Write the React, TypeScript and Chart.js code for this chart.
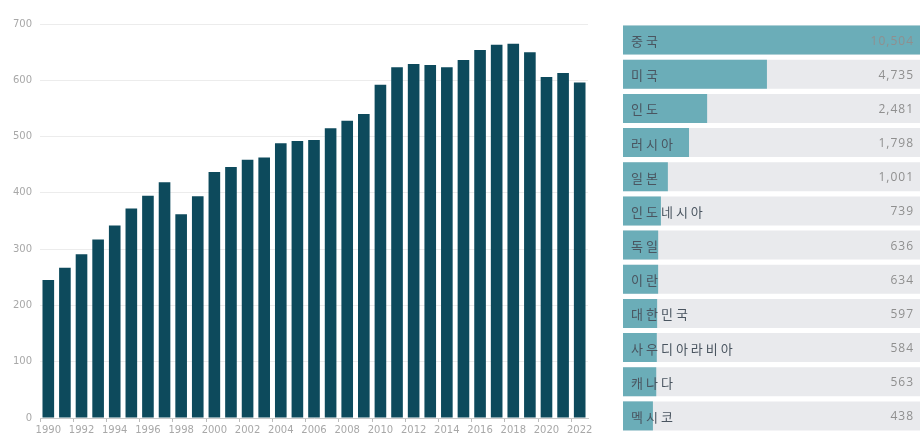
import React, { useEffect, useRef } from "react";
import { Chart, registerables } from "chart.js";

Chart.register(...registerables);

const years: string[] = [
  "1990","1991","1992","1993","1994","1995","1996","1997","1998","1999",
  "2000","2001","2002","2003","2004","2005","2006","2007","2008","2009",
  "2010","2011","2012","2013","2014","2015","2016","2017","2018","2019",
  "2020","2021","2022",
];
const emissions: number[] = [
  245, 267, 291, 317, 342, 372, 395, 419, 362, 394,
  437, 446, 459, 463, 488, 492, 494, 515, 528, 540,
  592, 623, 629, 627, 623, 636, 654, 663, 665, 650,
  606, 613, 596,
];
const yTicks: number[] = [0, 100, 200, 300, 400, 500, 600, 700];

const countries: string[] = [
  "중국", "미국", "인도", "러시아", "일본", "인도네시아",
  "독일", "이란", "대한민국", "사우디아라비아", "캐나다", "멕시코",
];
const countryValues: number[] = [
  10504, 4735, 2481, 1798, 1001, 739, 636, 634, 597, 584, 563, 438,
];
const valueLabels: string[] = [
  "10,504", "4,735", "2,481", "1,798", "1,001", "739",
  "636", "634", "597", "584", "563", "438",
];
const rankMin = -690;
const rankMax = 10504;

const DARK = "#0d4a5c";
const TEAL = "#6badb8";
const TRACK = "#e9eaed";

export default function App() {
  const leftRef = useRef<HTMLCanvasElement | null>(null);
  const rightRef = useRef<HTMLCanvasElement | null>(null);

  useEffect(() => {
    const left = new Chart(leftRef.current as HTMLCanvasElement, {
      type: "bar",
      data: {
        labels: years,
        datasets: [
          {
            data: emissions,
            backgroundColor: DARK,
            borderWidth: 0,
            categoryPercentage: 1,
            barPercentage: 0.7,
          },
        ],
      },
      options: {
        animation: false,
        responsive: false,
        maintainAspectRatio: false,
        layout: { padding: { top: 24, right: 12, left: 0, bottom: 0 } },
        plugins: { legend: { display: false }, tooltip: { enabled: false } },
        scales: {
          y: {
            min: 0,
            max: 700,
            afterTickToLabelConversion: (s: any) => {
              s.ticks = yTicks.map((v) => ({ value: v, label: String(v) }));
            },
            afterFit: (s: any) => {
              s.width = 40;
            },
            ticks: {
              stepSize: 100,
              color: "#a8a8a8",
              padding: 8,
              font: { family: "DejaVu Sans", size: 10 },
            },
            grid: { color: "#ececec", drawTicks: false, lineWidth: 1 },
            border: { display: false },
          },
          x: {
            afterFit: (s: any) => {
              s.height = 20;
            },
            ticks: {
              autoSkip: false,
              maxRotation: 0,
              minRotation: 0,
              padding: 2,
              color: "#a8a8a8",
              font: { family: "DejaVu Sans", size: 10 },
              callback: (_v: any, i: number) => (i % 2 === 0 ? years[i] : ""),
            },
            grid: {
              drawOnChartArea: false,
              drawTicks: true,
              tickLength: 4,
              color: (ctx: any) => (ctx.index % 2 === 0 ? "#bbbbbb" : "rgba(0,0,0,0)"),
            },
            border: { display: true, color: "#c8c8c8" },
          },
        },
      },
    });

    const labelPlugin = {
      id: "rowLabels",
      afterDatasetsDraw(chart: any) {
        const ctx = chart.ctx;
        const meta = chart.getDatasetMeta(1);
        const area = chart.chartArea;
        ctx.save();
        ctx.textBaseline = "middle";
        meta.data.forEach((bar: any, i: number) => {
          const y = bar.y;
          ctx.font = '13px "Noto Sans CJK KR"';
          (ctx as any).letterSpacing = "3px";
          ctx.fillStyle = "#4a5560";
          ctx.textAlign = "left";
          ctx.fillText(countries[i], area.left + 8, y + 1);
          ctx.font = '12px "Open Sans"';
          (ctx as any).letterSpacing = "1px";
          ctx.fillStyle = "#8f8f8f";
          ctx.textAlign = "right";
          ctx.fillText(valueLabels[i], area.right - 6, y + 1);
        });
        ctx.restore();
      },
    };

    const right = new Chart(rightRef.current as HTMLCanvasElement, {
      type: "bar",
      data: {
        labels: countries,
        datasets: [
          {
            data: countries.map(() => rankMax),
            backgroundColor: TRACK,
            borderWidth: 0,
            grouped: false,
            order: 2,
            base: rankMin,
            categoryPercentage: 1,
            barPercentage: 0.85,
          } as any,
          {
            data: countryValues,
            backgroundColor: TEAL,
            borderWidth: 0,
            grouped: false,
            order: 1,
            base: rankMin,
            categoryPercentage: 1,
            barPercentage: 0.85,
          } as any,
        ],
      },
      options: {
        indexAxis: "y",
        animation: false,
        responsive: false,
        maintainAspectRatio: false,
        layout: { padding: { top: 23, right: 0, left: 13, bottom: 5 } },
        plugins: { legend: { display: false }, tooltip: { enabled: false } },
        scales: {
          x: { display: false, min: rankMin, max: rankMax },
          y: { display: false },
        },
      },
      plugins: [labelPlugin],
    });

    return () => {
      left.destroy();
      right.destroy();
    };
  }, []);

  return (
    <div style={{ position: "fixed", left: 0, top: 0, width: 920, height: 438, background: "#fff" }}>
      <canvas
        ref={leftRef}
        width={600}
        height={438}
        style={{ position: "absolute", left: 0, top: 0, width: 600, height: 438 }}
      />
      <canvas
        ref={rightRef}
        width={310}
        height={438}
        style={{ position: "absolute", left: 610, top: 0, width: 310, height: 438 }}
      />
    </div>
  );
}
